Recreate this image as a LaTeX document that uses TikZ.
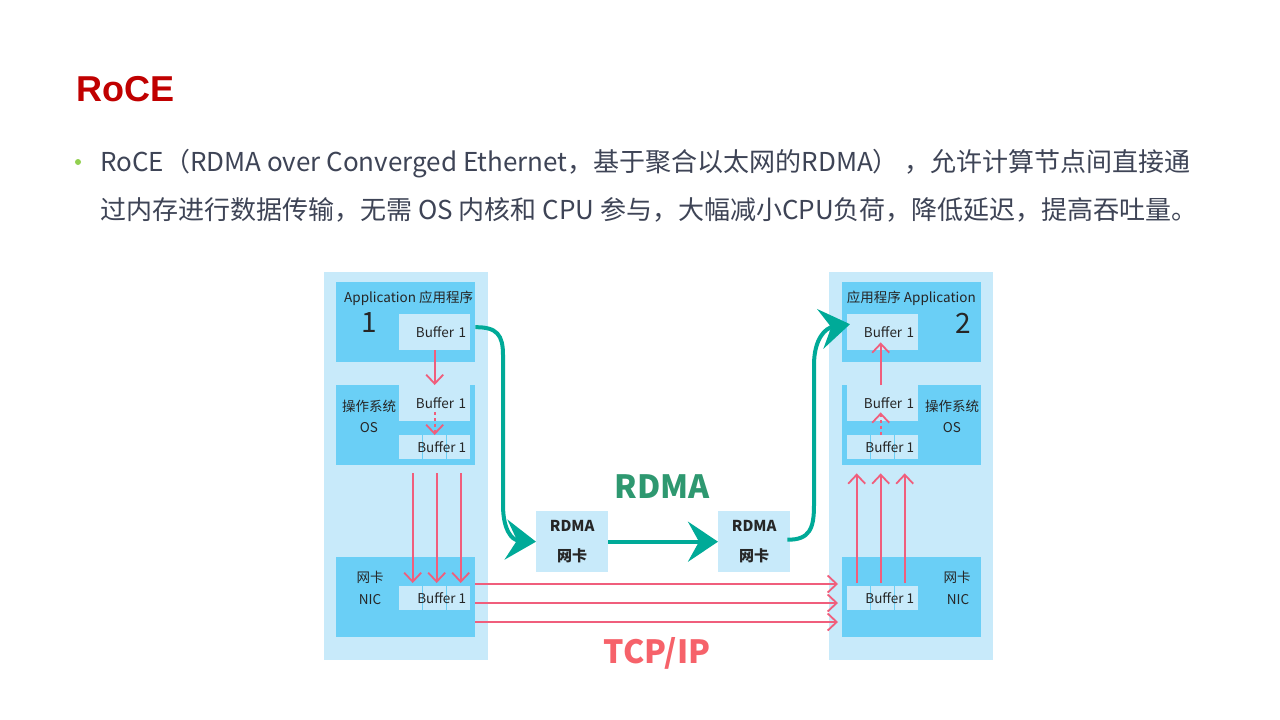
\documentclass[tikz,border=0pt]{standalone}
\usepackage{fontspec}
\setmainfont{Noto Sans CJK SC}
\newfontfamily\headfont{Liberation Sans}
\usepackage{xcolor}
\usetikzlibrary{arrows.meta, positioning, calc}

\definecolor{panelblue}{RGB}{200,234,250}
\definecolor{layerblue}{RGB}{106,207,246}
\definecolor{pinkline}{RGB}{240,94,124}
\definecolor{tealline}{RGB}{0,170,152}
\definecolor{rdmagreen}{RGB}{46,152,112}
\definecolor{tcpred}{RGB}{246,98,106}
\definecolor{titlered}{RGB}{192,0,0}
\definecolor{bodygray}{RGB}{62,68,86}
\definecolor{bulletgreen}{RGB}{146,208,80}
\definecolor{labelgray}{RGB}{38,38,38}

\begin{document}
\begin{tikzpicture}[
  x=1pt, y=-1pt,
  panel/.style={fill=panelblue, inner sep=0, anchor=north west, minimum width=164, minimum height=388},
  layerbox/.style={fill=layerblue, inner sep=0, anchor=north west, minimum width=139, minimum height=80},
  bufbox/.style={fill=panelblue, anchor=north west, inner sep=0, inner xsep=4, text width=63, align=right,
    minimum height=36, font=\fontsize{13.5}{13.5}\selectfont, text=labelgray},
  bufcell/.style={fill=panelblue, anchor=north west, inner sep=0, minimum width=23, minimum height=24},
  buflabel/.style={anchor=east, inner sep=0, font=\fontsize{13.5}{13.5}\selectfont, text=labelgray},
  labeltext/.style={inner sep=0, font=\fontsize{13.5}{13.5}\selectfont, text=labelgray},
  bignum/.style={inner sep=0, font=\fontsize{28}{28}\selectfont, text=labelgray},
  rnic/.style={fill=panelblue, anchor=north west, inner sep=0, minimum width=72, minimum height=61,
    align=center, font=\bfseries\fontsize{15}{30}\selectfont, text=labelgray},
  pinkarrow/.style={draw=pinkline, line width=1.8, -{Straight Barb[length=9, width=17]}},
  tealarrow/.style={draw=tealline, line width=4, -{Stealth[length=30, width=40, inset=11]}},
  bodytext/.style={anchor=base west, inner sep=0, font=\fontsize{26}{26}\selectfont, text=bodygray}
]
\useasboundingbox[fill=white] (0,0) rectangle (1280,720);

% heading and bullet text
\node[anchor=base west, inner sep=0, font=\headfont\bfseries\fontsize{36}{36}\selectfont, text=titlered] (title) at (76,101) {RoCE};
\node[circle, fill=bulletgreen, inner sep=0, minimum size=6] (bullet) at (78,162) {};
\node[bodytext] (line1) at (100,171) {RoCE（RDMA over Converged Ethernet，基于聚合以太网的RDMA） ，允许计算节点间直接通};
\node[bodytext] (line2) at (100,219) {过内存进行数据传输，无需 OS 内核和 CPU 参与，大幅减小CPU负荷，降低延迟，提高吞吐量。};

% host 1
\node[panel] (host1) at (324,272) {};
\node[layerbox] (app1) at (336,282) {};
\node[layerbox] (os1) at (336,385) {};
\node[layerbox] (nic1) at (336,557) {};
\node[bufbox] (app1buf) at (399,314) {Buffer 1};
\node[bufbox] (os1buf) at (399,385) {Buffer 1};
\foreach \c [count=\i from 0] in {a,b,c} {
  \node[bufcell] (os1buf\c) at ({399+24*\i},435) {};
  \node[bufcell] (nic1buf\c) at ({399+24*\i},586) {};
}
\node[buflabel] (os1buflabel) at ($(os1bufc.east)+(-4,0)$) {Buffer 1};
\node[buflabel] (nic1buflabel) at ($(nic1bufc.east)+(-4,0)$) {Buffer 1};
\node[labeltext, anchor=west] (app1name) at (344,298) {Application 应用程序};
\node[bignum] (app1num) at (369,323) {1};
\node[labeltext] (os1name) at (369,406) {操作系统};
\node[labeltext] (os1short) at (369,428) {OS};
\node[labeltext] (nic1name) at (370,577) {网卡};
\node[labeltext] (nic1short) at (370,600) {NIC};

% host 2
\node[panel] (host2) at (829,272) {};
\node[layerbox] (app2) at (842,282) {};
\node[layerbox] (os2) at (842,385) {};
\node[layerbox] (nic2) at (842,557) {};
\node[bufbox] (app2buf) at (847,314) {Buffer 1};
\node[bufbox] (os2buf) at (847,385) {Buffer 1};
\foreach \c [count=\i from 0] in {a,b,c} {
  \node[bufcell] (os2buf\c) at ({847+24*\i},435) {};
  \node[bufcell] (nic2buf\c) at ({847+24*\i},586) {};
}
\node[buflabel] (os2buflabel) at ($(os2bufc.east)+(-4,0)$) {Buffer 1};
\node[buflabel] (nic2buflabel) at ($(nic2bufc.east)+(-4,0)$) {Buffer 1};
\node[labeltext, anchor=east] (app2name) at (976,298) {应用程序 Application};
\node[bignum] (app2num) at (963,323) {2};
\node[labeltext] (os2name) at (952,406) {操作系统};
\node[labeltext] (os2short) at (952,428) {OS};
\node[labeltext] (nic2name) at (957,577) {网卡};
\node[labeltext] (nic2short) at (958,600) {NIC};

% RDMA cards
\node[rnic] (rnic1) at (536,511) {RDMA\\网卡};
\node[rnic] (rnic2) at (718,511) {RDMA\\网卡};
\node[inner sep=0, font=\bfseries\fontsize{32}{32}\selectfont, text=rdmagreen] (rdmalabel) at (662,487) {RDMA};
\node[inner sep=0, font=\bfseries\fontsize{32}{32}\selectfont, text=tcpred] (tcplabel) at (657,653) {TCP/IP};

% TCP/IP path, sending side
\draw[pinkarrow] (app1buf.south) -- (os1buf.north);
\draw[pinkarrow, dashed] ($(os1buf.south)+(0,-9)$) -- (os1bufb.north);
\foreach \c in {a,b,c}
  \draw[pinkarrow] ($(nic1buf\c.north |- os1.south)+(2,8)$) -- ($(nic1buf\c.north)+(2,-3)$);
\foreach \yy in {584,603,622}
  \draw[pinkarrow] (nic1.east |- 0,\yy) -- ($(nic2.west |- 0,\yy)+(-4,0)$);

% TCP/IP path, receiving side
\foreach \c in {a,b,c}
  \draw[pinkarrow] ($(nic2buf\c.north)+(-2,-3)$) -- ($(nic2buf\c.north |- os2.south)+(-2,8)$);
\draw[pinkarrow, dashed] ($(os2bufb.north)+(-2,0)$) -- ($(os2buf.south)+(-2,-9)$);
\draw[pinkarrow] ($(os2buf.north)+(-2,0)$) -- ($(app2buf.south)+(-2,-8)$);

% RDMA path
\draw[tealarrow] ($(app1.east)+(0,5)$) .. controls (497,327) and (503,335) .. (503,355)
  -- (503,505) .. controls (503,530) and (512,540) .. (rnic1.west);
\draw[tealarrow] (rnic1.east) -- (rnic2.west);
\draw[tealarrow] ($(rnic2.east)+(-3,-2)$) .. controls (810,540) and (814,528) .. (814,505)
  -- (814,365) .. controls (814,338) and (826,328) .. ($(app2buf.west)+(3,-8)$);
\end{tikzpicture}
\end{document}
